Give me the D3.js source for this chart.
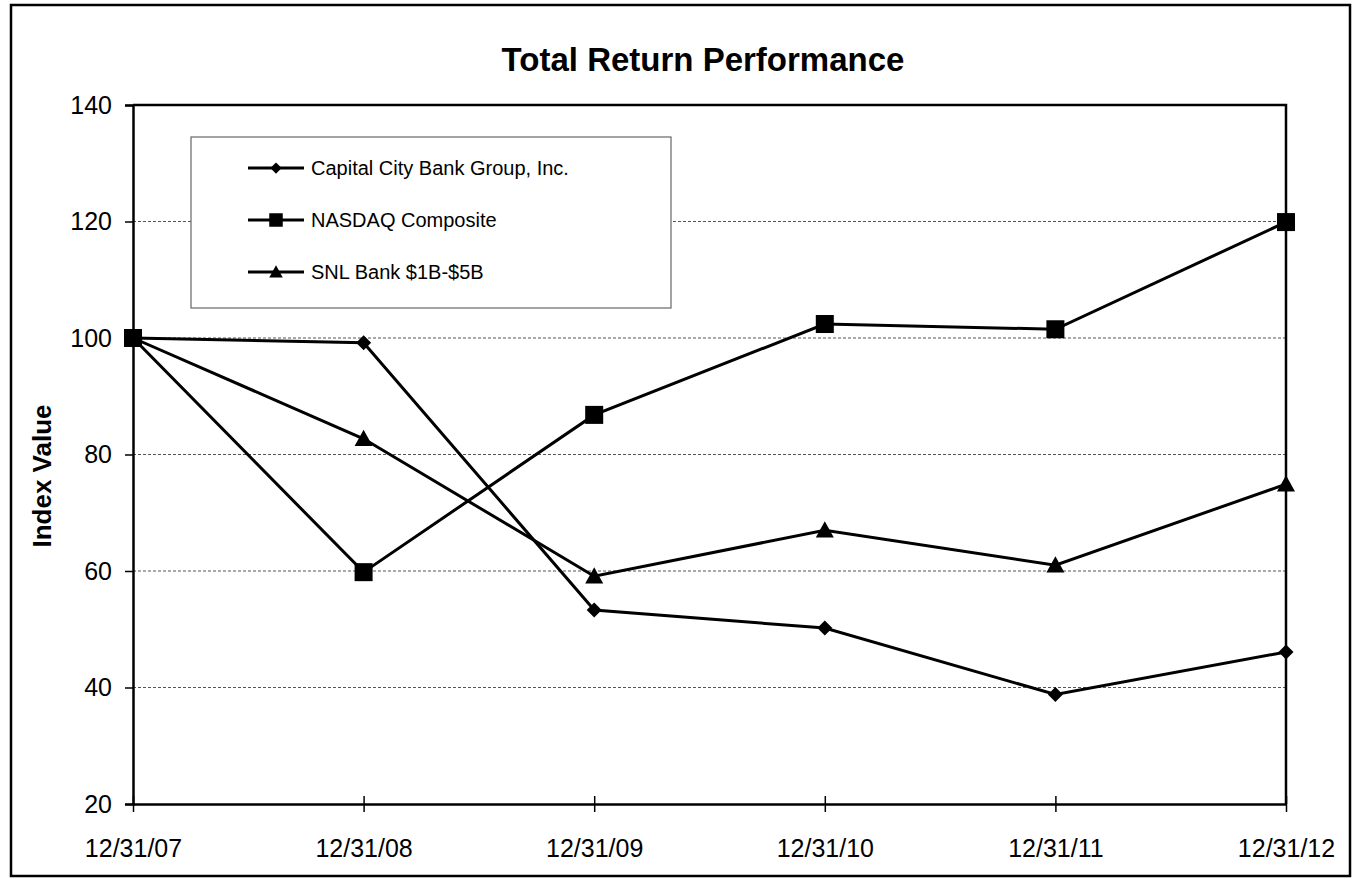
<!DOCTYPE html>
<html>
<head>
<meta charset="utf-8">
<script src="https://cdn.jsdelivr.net/npm/d3@7"></script>
<style>
  body { margin: 0; background: #fff; }
  text { font-family: "Liberation Sans", Arial, sans-serif; fill: #000; }
</style>
</head>
<body>
<script>
const dates = ["12/31/07", "12/31/08", "12/31/09", "12/31/10", "12/31/11", "12/31/12"];
const capitalCity = [100, 99.2, 53.3, 50.2, 38.8, 46.1];
const nasdaq = [100, 59.8, 86.8, 102.4, 101.5, 119.9];
const snlBank = [100, 82.7, 59.1, 67.0, 61.0, 74.9];
const yTicks = [20, 40, 60, 80, 100, 120, 140];

const seriesList = [
  { name: "Capital City Bank Group, Inc.", values: capitalCity, marker: "diamond" },
  { name: "NASDAQ Composite", values: nasdaq, marker: "square" },
  { name: "SNL Bank $1B-$5B", values: snlBank, marker: "triangle" }
];

const width = 1356, height = 879;
const margin = { left: 133, right: 70, top: 105, bottom: 75 };

const svg = d3.select("body").append("svg")
  .attr("width", width)
  .attr("height", height);

// outer frame
svg.append("rect")
  .attr("x", 11).attr("y", 5)
  .attr("width", 1339).attr("height", 871)
  .attr("fill", "none").attr("stroke", "#000").attr("stroke-width", 2.5);

const x = d3.scalePoint().domain(dates).range([margin.left, width - margin.right]);
const y = d3.scaleLinear().domain([20, 140]).range([height - margin.bottom, margin.top]);

// gridlines
svg.append("g")
  .selectAll("line")
  .data(yTicks.filter(d => d > 20 && d < 140))
  .join("line")
  .attr("x1", margin.left).attr("x2", width - margin.right)
  .attr("y1", d => y(d)).attr("y2", d => y(d))
  .attr("stroke", "#555").attr("stroke-width", 1)
  .attr("stroke-dasharray", "3,2");

// plot border (top + right)
svg.append("path")
  .attr("d", `M${margin.left},${y(140)}H${width - margin.right}V${y(20)}`)
  .attr("fill", "none").attr("stroke", "#000").attr("stroke-width", 2.5);

// y axis
const yAxis = svg.append("g")
  .attr("transform", `translate(${margin.left},0)`)
  .call(d3.axisLeft(y).tickValues(yTicks).tickSize(8).tickPadding(13));
yAxis.select(".domain").attr("stroke-width", 2.5);
yAxis.selectAll(".tick line").attr("stroke-width", 1.5);
yAxis.selectAll(".tick text")
  .attr("font-size", 25)
  .style("font-family", "'Liberation Sans', Arial, sans-serif");

// x axis
const xAxis = svg.append("g")
  .attr("transform", `translate(0,${y(20)})`)
  .call(d3.axisBottom(x).tickSize(8).tickPadding(27).tickSizeOuter(0));
xAxis.select(".domain").attr("stroke-width", 2.5);
xAxis.selectAll(".tick line").attr("y1", -8).attr("stroke-width", 1.5);
xAxis.selectAll(".tick text")
  .attr("font-size", 25)
  .style("font-family", "'Liberation Sans', Arial, sans-serif");

// title
svg.append("text")
  .attr("x", 703).attr("y", 71)
  .attr("text-anchor", "middle")
  .attr("font-size", 33).attr("font-weight", "bold")
  .text("Total Return Performance");

// y label
svg.append("text")
  .attr("transform", `translate(51,476) rotate(-90)`)
  .attr("text-anchor", "middle")
  .attr("font-size", 26).attr("font-weight", "bold")
  .text("Index Value");

function drawMarker(g, type, cx, cy, scale) {
  const s = scale || 1;
  if (type === "diamond") {
    const r = 7.5 * s;
    g.append("path")
      .attr("d", `M${cx},${cy - r}L${cx + r},${cy}L${cx},${cy + r}L${cx - r},${cy}Z`)
      .attr("fill", "#000");
  } else if (type === "square") {
    const r = 9 * s;
    g.append("rect")
      .attr("x", cx - r).attr("y", cy - r)
      .attr("width", 2 * r).attr("height", 2 * r)
      .attr("fill", "#000");
  } else {
    const r = 9 * s;
    g.append("path")
      .attr("d", `M${cx},${cy - r}L${cx + r},${cy + r * 0.8}L${cx - r},${cy + r * 0.8}Z`)
      .attr("fill", "#000");
  }
}

const line = d3.line()
  .x((d, i) => x(dates[i]))
  .y(d => y(d));

seriesList.forEach(s => {
  const g = svg.append("g");
  g.append("path")
    .datum(s.values)
    .attr("d", line)
    .attr("fill", "none")
    .attr("stroke", "#000")
    .attr("stroke-width", 3);
  s.values.forEach((v, i) => drawMarker(g, s.marker, x(dates[i]), y(v)));
});

// legend
const legend = svg.append("g");
legend.append("rect")
  .attr("x", 191).attr("y", 137)
  .attr("width", 480).attr("height", 171)
  .attr("fill", "#fff")
  .attr("stroke", "#666").attr("stroke-width", 1.2);

seriesList.forEach((s, i) => {
  const ly = 168 + i * 52;
  legend.append("line")
    .attr("x1", 248).attr("x2", 304)
    .attr("y1", ly).attr("y2", ly)
    .attr("stroke", "#000").attr("stroke-width", 3);
  drawMarker(legend, s.marker, 276, ly, 0.75);
  legend.append("text")
    .attr("x", 311).attr("y", ly)
    .attr("dy", "0.35em")
    .attr("font-size", 20)
    .text(s.name);
});
</script>
</body>
</html>
